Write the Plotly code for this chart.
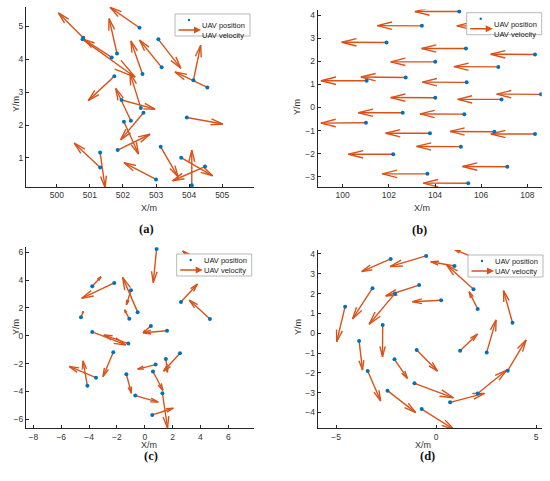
import plotly.graph_objects as go

W, H = 550, 481

# (a) positions and velocities (random start)
a_x = [502.50, 500.80, 500.78, 501.66, 501.82, 501.74, 502.59, 501.96, 502.24, 502.03,
       502.54, 502.62, 501.84, 501.31, 501.31, 503.00, 503.07, 503.17, 504.13, 504.55,
       503.93, 503.14, 503.76, 504.48, 504.08]
a_y = [4.95, 4.65, 4.60, 4.05, 4.17, 3.48, 3.55, 2.76, 2.13, 2.10,
       2.52, 2.37, 1.24, 1.17, 0.71, 0.35, 4.60, 3.75, 3.36, 3.14,
       2.23, 1.34, 1.01, 0.74, 0.17]
a_u = [-0.89, -0.75, 1.59, -0.84, -0.24, -0.79, -0.35, 1.01, -0.46, 0.44,
       -0.33, -0.69, 0.98, 0.15, -0.78, -0.97, 0.68, -0.67, 0.22, -0.98,
       1.09, 0.53, 0.95, -0.98, 0.00]
a_v = [0.62, 0.75, -1.15, 0.55, 1.06, -0.74, 1.00, -0.28, 0.98, -0.98,
       1.06, -0.82, 0.48, -1.07, 0.74, 0.51, -0.88, 0.83, 1.06, 0.47,
       -0.20, -0.92, -0.55, -0.43, 1.07]

# (b) aligned flight
b_x = [105.05, 103.43, 106.90, 101.90, 105.34, 108.33, 104.01, 106.74, 102.73, 101.04,
       105.37, 104.01, 106.88, 108.59, 102.60, 105.27, 101.01, 103.78, 106.57, 108.33,
       105.12, 102.19, 107.13, 103.67, 105.44]
b_y = [4.16, 3.54, 3.54, 2.82, 2.56, 2.30, 1.98, 1.76, 1.30, 1.16,
       1.09, 0.42, 0.35, 0.57, -0.23, -0.29, -0.66, -1.12, -1.05, -1.15,
       -1.70, -2.03, -2.57, -2.88, -3.29]
b_u = [-1.92, -1.93, -1.96, -1.94, -1.92, -1.92, -1.93, -1.92, -1.94, -1.98,
       -1.92, -1.93, -1.90, -1.92, -1.92, -1.92, -1.95, -1.92, -1.92, -1.91,
       -1.92, -1.94, -1.94, -1.95, -1.95]
b_v = [0.00, 0.01, 0.00, 0.01, 0.00, 0.01, 0.00, 0.01, 0.02, 0.00,
       0.01, 0.01, 0.00, 0.01, 0.00, 0.01, -0.02, 0.00, 0.01, 0.00,
       0.01, 0.00, 0.01, 0.00, 0.01]

# (c) gathering
c_x = [0.85, 3.96, -3.77, -2.19, -0.99, -0.51, -1.11, -4.58, 0.44, 1.60,
       -3.77, -1.18, -2.26, -4.12, -3.50, -1.32, -0.68, 0.78, 0.59, 1.52,
       2.53, 1.27, 0.54, 2.60, 4.68]
c_y = [6.24, 5.09, 3.56, 3.80, 3.27, 1.70, 1.22, 1.33, 0.71, 0.36,
       0.28, -0.56, -1.19, -3.60, -3.01, -2.76, -4.30, -2.07, -2.57, -1.67,
       -1.26, -4.13, -5.69, 2.43, 1.21]
c_u = [-0.24, -1.24, 0.63, -2.34, -0.33, -1.08, -0.34, 0.17, -0.56, -1.72,
       2.41, -1.76, -0.74, -0.32, -1.93, 0.36, 1.65, -1.29, 0.72, 0.11,
       -1.18, 0.37, 1.51, 1.19, -1.48]
c_v = [-2.42, 1.01, 0.69, -1.11, -1.05, 2.50, 0.65, 0.43, -0.49, -0.14,
       -0.94, 0.62, -1.75, 1.80, 0.81, -1.37, -0.47, -0.33, -1.36, -0.96,
       -1.29, -2.50, 0.48, 1.29, 1.36]

# (d) circling
d_x = [-0.50, -2.27, 0.92, 1.80, 1.87, -0.85, -3.18, -4.55, -2.05, 0.25,
       2.08, 3.82, -2.67, -3.85, -0.97, 1.20, 2.53, -2.08, -3.42, -1.08,
       -2.43, -0.72, 0.70, 2.08, 3.58]
d_y = [3.90, 3.75, 3.39, 3.85, 2.22, 2.43, 2.27, 1.34, 2.01, 1.66,
       1.22, 0.53, 0.41, -0.39, -0.85, -0.88, -0.97, -1.32, -1.91, -2.53,
       -2.90, -3.83, -3.49, -3.04, -1.89]
d_u = [-1.80, -1.45, -1.19, -0.90, -1.34, -1.67, -1.00, -0.42, -1.30, -1.43,
       -0.43, -0.45, -0.01, 0.17, 1.04, 0.87, 0.47, 0.65, 0.65, 1.95,
       1.41, 1.62, 1.72, 1.45, 0.92]
d_v = [-0.54, -0.64, 0.22, 0.39, 1.22, -0.55, -1.55, -1.77, -1.56, -0.07,
       0.88, 1.62, -1.60, -1.47, -1.06, 0.84, 1.64, -0.96, -1.51, -0.73,
       -1.11, -1.03, 0.45, 1.18, 1.55]

BLUE = "#0072BD"
ORANGE = "#D95319"
AXIS = "#262626"
FONT = "Liberation Sans, Arial, sans-serif"


def quiver_lines(x, y, u, v, alpha=0.33, beta=0.25):
    # shaft plus two barbs per arrow, like MATLAB quiver
    xs, ys = [], []
    for x0, y0, du, dv in zip(x, y, u, v):
        x1, y1 = x0 + du, y0 + dv
        xs += [x0, x1, None,
               x1 - alpha * (du + beta * dv), x1, x1 - alpha * (du - beta * dv), None]
        ys += [y0, y1, None,
               y1 - alpha * (dv - beta * du), y1, y1 - alpha * (dv + beta * du), None]
    return xs, ys


panels = [
    dict(x=a_x, y=a_y, u=a_u, v=a_v, box=(26, 254, 7, 187),
         xr=[499.07, 505.96], yr=[0.12, 5.58], xt=[500, 501, 502, 503, 504, 505],
         yt=[1, 2, 3, 4, 5], leg=(175, 14), cap="(a)", capxy=(138, 229),
         xtitle=(140, 207.5), ytitle=(10, 95)),
    dict(x=b_x, y=b_y, u=b_u, v=b_v, box=(317.7, 541.7, 9.5, 187),
         xr=[98.92, 108.62], yr=[-3.45, 4.25], xt=[100, 102, 104, 106, 108],
         yt=[-3, -2, -1, 0, 1, 2, 3, 4], leg=(466.7, 12.7), cap="(b)", capxy=(428, 230),
         xtitle=(431, 208), ytitle=(297, 98)),
    dict(x=c_x, y=c_y, u=c_u, v=c_v, box=(26, 254.3, 247.3, 428.3),
         xr=[-8.53, 7.87], yr=[-6.65, 6.36], xt=[-8, -6, -4, -2, 0, 2, 4, 6],
         yt=[-6, -4, -2, 0, 2, 4, 6], leg=(176.7, 254), cap="(c)", capxy=(143, 464),
         xtitle=(140, 451), ytitle=(10, 336)),
    dict(x=d_x, y=d_y, u=d_u, v=d_v, box=(317.7, 541.7, 250, 428.3),
         xr=[-5.92, 5.28], yr=[-4.8, 4.2], xt=[-5, 0, 5],
         yt=[-4, -3, -2, -1, 0, 1, 2, 3, 4], leg=(468, 255), cap="(d)", capxy=(436, 464),
         xtitle=(432, 451), ytitle=(298, 336)),
]

fig = go.Figure()
shapes, annotations = [], []

for i, p in enumerate(panels, start=1):
    sfx = "" if i == 1 else str(i)
    xs, ys = quiver_lines(p["x"], p["y"], p["u"], p["v"])
    fig.add_trace(go.Scatter(
        x=xs, y=ys, mode="lines", name="UAV velocity", showlegend=False,
        line=dict(color=ORANGE, width=1.4), xaxis="x" + sfx, yaxis="y" + sfx,
        hoverinfo="skip"))
    fig.add_trace(go.Scatter(
        x=p["x"], y=p["y"], mode="markers", name="UAV position", showlegend=False,
        marker=dict(color=BLUE, size=4), xaxis="x" + sfx, yaxis="y" + sfx))

    x0, x1, y0, y1 = p["box"]
    axis_style = dict(showline=True, linecolor=AXIS, linewidth=1, mirror=False,
                      ticks="inside", ticklen=3, tickwidth=1, tickcolor=AXIS,
                      showgrid=False, zeroline=False,
                      tickfont=dict(family=FONT, size=8.5, color="#333333"))
    fig.update_layout(**{
        "xaxis" + sfx: dict(domain=[x0 / W, x1 / W], range=p["xr"], tickvals=p["xt"],
                            anchor="y" + sfx, **axis_style),
        "yaxis" + sfx: dict(domain=[1 - y1 / H, 1 - y0 / H], range=p["yr"], tickvals=p["yt"],
                            anchor="x" + sfx, **axis_style),
    })

    # axis titles and caption
    tx, ty = p["xtitle"]
    annotations.append(dict(text="X/m", x=tx / W, y=1 - ty / H, xref="paper", yref="paper",
                            showarrow=False, borderpad=0,
                            font=dict(family=FONT, size=9, color="#333333")))
    tx, ty = p["ytitle"]
    annotations.append(dict(text="Y/m", x=tx / W, y=1 - ty / H, xref="paper", yref="paper",
                            showarrow=False, textangle=-90, borderpad=0,
                            font=dict(family=FONT, size=9, color="#333333")))
    cx, cy = p["capxy"]
    annotations.append(dict(text="<b>" + p["cap"] + "</b>", x=cx / W, y=1 - cy / H,
                            xref="paper", yref="paper", showarrow=False, borderpad=0,
                            font=dict(family="Liberation Serif, serif", size=12.5,
                                      color="#111111")))

    # MATLAB-style legend box
    lx, ly = p["leg"]
    shapes.append(dict(type="rect", xref="paper", yref="paper", x0=lx / W, x1=(lx + 75) / W,
                       y0=1 - (ly + 22) / H, y1=1 - ly / H, fillcolor="white",
                       line=dict(color="#a6a6a6", width=0.8), layer="above"))
    shapes.append(dict(type="circle", xref="paper", yref="paper",
                       x0=(lx + 12.8) / W, x1=(lx + 15.2) / W,
                       y0=1 - (ly + 7.2) / H, y1=1 - (ly + 4.8) / H,
                       fillcolor=BLUE, line=dict(width=0), layer="above"))
    annotations.append(dict(text="", x=(lx + 26) / W, y=1 - (ly + 16) / H, xref="paper",
                            yref="paper", showarrow=True, ax=-24, ay=0, arrowhead=2,
                            arrowsize=1, arrowwidth=1.4, arrowcolor=ORANGE, standoff=0))
    for k, label in enumerate(["UAV position", "UAV velocity"]):
        annotations.append(dict(text=label, x=(lx + 26) / W, y=1 - (ly + 6 + 10 * k) / H,
                                xref="paper", yref="paper", xanchor="left", showarrow=False,
                                borderpad=0, font=dict(family=FONT, size=7.5, color="#1a1a1a")))

fig.update_layout(
    width=W, height=H, margin=dict(l=0, r=0, t=0, b=0),
    paper_bgcolor="white", plot_bgcolor="white",
    showlegend=False, shapes=shapes, annotations=annotations,
)

# drop the default page margin so the figure sits at the window's top-left corner
fig.write_html("out.html", config={"displayModeBar": False},
               post_script="document.body.style.margin='0px';")
